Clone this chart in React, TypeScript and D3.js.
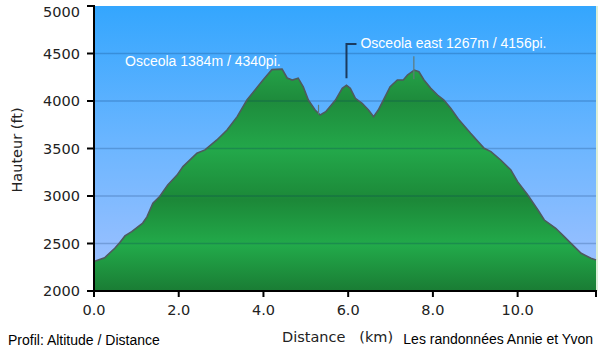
import React, { useEffect, useRef } from 'react'
import * as d3 from 'd3'

// profile: distance (km) / elevation (ft)
const distances = [
  0.0, 0.25, 0.49, 0.61, 0.73, 0.89, 1.15, 1.25, 1.39, 1.55, 1.74, 1.96, 2.1, 2.43, 2.62, 2.9, 3.14, 3.38, 3.61,
  3.99, 4.2, 4.44, 4.56, 4.68, 4.82, 4.94, 5.06, 5.22, 5.34, 5.47, 5.7, 5.86, 5.96, 6.05, 6.17, 6.33, 6.48, 6.6,
  6.71, 6.83, 6.99, 7.16, 7.3, 7.4, 7.56, 7.67, 7.79, 7.95, 8.11, 8.26, 8.42, 8.6, 8.89, 9.21, 9.37, 9.6, 9.84,
  10.0, 10.24, 10.48, 10.63, 10.9, 11.1, 11.26, 11.5, 11.73, 11.85,
]
const elevations = [
  2310, 2350, 2450, 2510, 2580, 2625, 2715, 2780, 2925, 2995, 3115, 3220, 3310, 3450, 3485, 3590, 3695, 3835, 4010,
  4220, 4330, 4335, 4242, 4220, 4240, 4150, 4010, 3905, 3853, 3887, 4010, 4133, 4165, 4133, 4028, 3976, 3905, 3835,
  3905, 4010, 4150, 4221, 4221, 4274, 4326, 4308, 4221, 4133, 4063, 4010, 3923, 3810, 3660, 3502, 3467, 3379, 3274,
  3151, 3011, 2853, 2747, 2660, 2572, 2502, 2397, 2344, 2326,
]
const yTicks = [2000, 2500, 3000, 3500, 4000, 4500, 5000]
const xTicks = [0, 2, 4, 6, 8, 10]
const summits = [
  { name: 'Osceola 1384m / 4340pi.', km: 4.4, ft: 4340 },
  { name: 'Osceola east 1267m / 4156pi.', km: 5.96, ft: 4156 },
]
const markers = [
  { km: 5.3, from: 3960, to: 3860 },
  { km: 7.55, from: 4470, to: 4230 },
]

export default function App() {
  const svgRef = useRef<SVGSVGElement>(null)

  useEffect(() => {
    if (!svgRef.current) return
    const svg = d3.select(svgRef.current)
    svg.selectAll('*').remove()

    const left = 94, right = 596, top = 6, bottom = 291
    const x = d3.scaleLinear().domain([0, 11.85]).range([left, right])
    const y = d3.scaleLinear().domain([2000, 5000]).range([bottom, top])
    const data = distances.map((d, i) => ({ d, e: elevations[i] }))
    const arial = 'Arial, "Liberation Sans", sans-serif'

    const defs = svg.append('defs')
    const sky = defs.append('linearGradient').attr('id', 'sky')
      .attr('gradientUnits', 'userSpaceOnUse')
      .attr('x1', 0).attr('x2', 0).attr('y1', top).attr('y2', bottom)
    sky.append('stop').attr('offset', 0).attr('stop-color', '#34a6fe')
    sky.append('stop').attr('offset', 0.5).attr('stop-color', '#6db6ff')
    sky.append('stop').attr('offset', 1).attr('stop-color', '#a4c2ff')

    const green = defs.append('linearGradient').attr('id', 'green')
      .attr('gradientUnits', 'userSpaceOnUse')
      .attr('x1', 0).attr('x2', 0).attr('y1', top).attr('y2', bottom)
    const gStops: [number, string][] = [
      [60, '#26a84b'], [100, '#1e8b3c'], [150, '#23a84a'], [200, '#1c8838'], [245, '#22aa4a'], [291, '#1a7c34'],
    ]
    gStops.forEach(([py, c]) =>
      green.append('stop').attr('offset', (py - top) / (bottom - top)).attr('stop-color', c))

    svg.append('rect').attr('x', left).attr('y', top)
      .attr('width', right - left).attr('height', bottom - top).attr('fill', 'url(#sky)')
    svg.append('line').attr('x1', right + 1).attr('x2', right + 1).attr('y1', top).attr('y2', bottom)
      .attr('stroke', '#cfe9c8').attr('stroke-width', 1.5)

    const area = d3.area<{ d: number; e: number }>()
      .x((p) => x(p.d)).y0(bottom).y1((p) => y(p.e))
    const line = d3.line<{ d: number; e: number }>()
      .x((p) => x(p.d)).y((p) => y(p.e))

    svg.append('path').datum(data).attr('d', area).attr('fill', 'url(#green)')

    // grid
    svg.append('g').selectAll('line')
      .data(yTicks.filter((t) => t > 2000 && t < 5000))
      .join('line')
      .attr('x1', left).attr('x2', right)
      .attr('y1', (t) => y(t)).attr('y2', (t) => y(t))
      .attr('stroke', 'rgba(0,40,90,0.22)').attr('stroke-width', 1.5)

    svg.append('path').datum(data).attr('d', line)
      .attr('fill', 'none').attr('stroke', '#4e5a5e').attr('stroke-width', 1.6)

    // waypoint markers
    svg.append('g').selectAll('line').data(markers).join('line')
      .attr('x1', (m) => x(m.km)).attr('x2', (m) => x(m.km))
      .attr('y1', (m) => y(m.from)).attr('y2', (m) => y(m.to))
      .attr('stroke', '#5f7a7a').attr('stroke-width', 1.2)

    // summit labels
    const s0 = summits[0]
    svg.append('text').attr('x', 125).attr('y', 66)
      .style('font-family', arial).style('font-size', '14px')
      .attr('fill', 'white').text(s0.name)
    const s1 = summits[1]
    const sx = x(s1.km)
    svg.append('path')
      .attr('d', `M${sx},${y(s1.ft) - 8}V44H${sx + 10}`)
      .attr('fill', 'none').attr('stroke', '#1b3b5e').attr('stroke-width', 2)
    svg.append('text').attr('x', sx + 14).attr('y', 48)
      .style('font-family', arial).style('font-size', '14px')
      .attr('fill', 'white').text(s1.name)

    // axes
    const tickFont = 'DejaVu Sans, Verdana, sans-serif'
    const yAxis = svg.append('g')
    yAxis.append('line').attr('x1', left).attr('x2', left).attr('y1', top - 1).attr('y2', bottom + 1)
      .attr('stroke', 'black').attr('stroke-width', 2)
    yAxis.selectAll('line.t').data(yTicks).join('line').attr('class', 't')
      .attr('x1', left - 7).attr('x2', left).attr('y1', (t) => y(t)).attr('y2', (t) => y(t))
      .attr('stroke', 'black').attr('stroke-width', 2)
    yAxis.selectAll('text').data(yTicks).join('text')
      .attr('x', 80).attr('y', (t) => Math.max(y(t), 12)).attr('dy', '0.36em').attr('text-anchor', 'end')
      .style('font-family', tickFont).style('font-size', '14.5px').attr('fill', '#222')
      .text((t) => t)

    const xAxis = svg.append('g')
    xAxis.append('line').attr('x1', left - 1).attr('x2', right + 1).attr('y1', bottom).attr('y2', bottom)
      .attr('stroke', 'black').attr('stroke-width', 2)
    xAxis.selectAll('line.t').data([...xTicks, 11.85]).join('line').attr('class', 't')
      .attr('x1', (t) => x(t)).attr('x2', (t) => x(t)).attr('y1', bottom).attr('y2', bottom + 6)
      .attr('stroke', 'black').attr('stroke-width', 2)
    xAxis.selectAll('text').data(xTicks).join('text')
      .attr('x', (t) => x(t)).attr('y', 310).attr('dy', '0.36em').attr('text-anchor', 'middle')
      .style('font-family', tickFont).style('font-size', '14.5px').attr('fill', '#222')
      .text((t) => d3.format('.1f')(t))

    svg.append('text').attr('x', 282).attr('y', 342)
      .style('font-family', tickFont).style('font-size', '14.5px').attr('fill', '#222')
      .style('white-space', 'pre').text('Distance   (km)')
    svg.append('text').attr('transform', 'translate(22,150) rotate(-90)').attr('text-anchor', 'middle')
      .style('font-family', tickFont).style('font-size', '14.5px').attr('fill', '#222')
      .text('Hauteur (ft)')

    svg.append('text').attr('x', 8).attr('y', 345)
      .style('font-family', arial).style('font-size', '14px').attr('fill', 'black')
      .text('Profil: Altitude / Distance')
    svg.append('text').attr('x', 593).attr('y', 344).attr('text-anchor', 'end')
      .style('font-family', arial).style('font-size', '14px').attr('fill', 'black')
      .text('Les randonnées Annie et Yvon')
  }, [])

  return (
    <svg ref={svgRef} width={600} height={354}
      style={{ position: 'absolute', left: 0, top: 0, background: 'white' }} />
  )
}
